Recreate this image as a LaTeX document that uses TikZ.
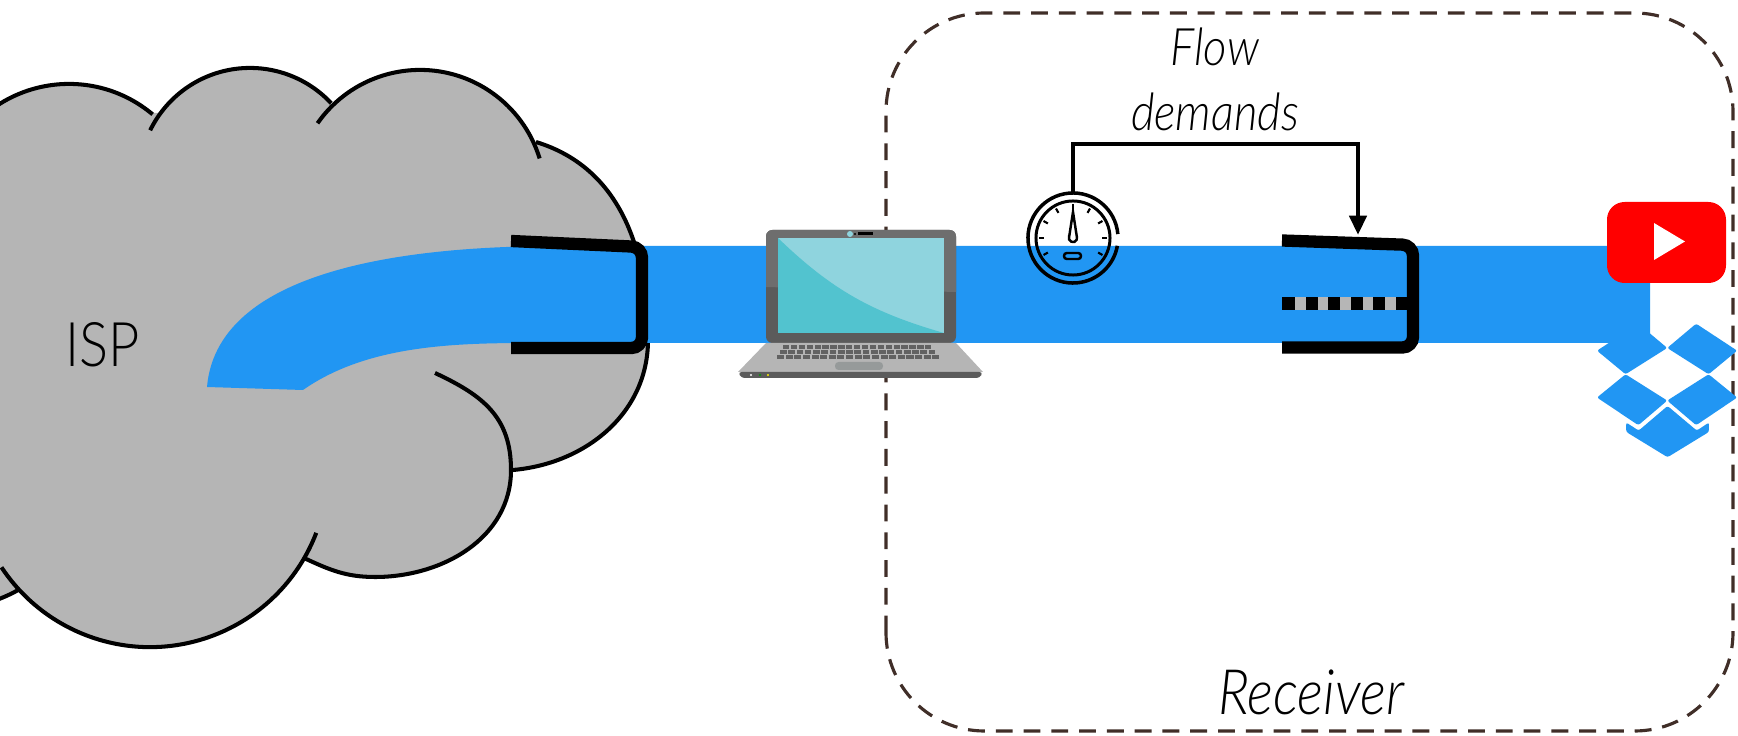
\documentclass[tikz,border=0pt]{standalone}
\usepackage{fontspec}
\setmainfont{Lato Light}[ItalicFont={Lato Light Italic}, FakeStretch=0.88]
\usepackage{tikz}
\usetikzlibrary{arrows.meta}

\definecolor{flowblue}{RGB}{33,150,243}
\definecolor{cloudgray}{RGB}{181,181,181}
\definecolor{boxbrown}{RGB}{64,46,40}
\definecolor{barsilver}{RGB}{182,182,182}
\definecolor{lidgray}{RGB}{110,110,110}
\definecolor{liddark}{RGB}{91,91,91}
\definecolor{screenlight}{RGB}{143,212,222}
\definecolor{screendark}{RGB}{82,195,207}
\definecolor{basegray}{RGB}{181,181,181}
\definecolor{keygray}{RGB}{98,98,98}
\definecolor{padgray}{RGB}{150,154,154}
\definecolor{ytred}{RGB}{255,0,0}

\begin{document}
\begin{tikzpicture}[x=0.01cm, y=0.01cm,
		cloudline/.style={line width=1.15pt},
		bracket/.style={line width=3.5pt},
		gaugeline/.style={line width=1pt},
		demandline/.style={line width=1.3pt, -{Triangle[width=4.8pt,length=5.5pt]}},
		receiverbox/.style={boxbrown, line width=0.9pt, dash pattern=on 4.8pt off 3.1pt, rounded corners=28pt}]
				\useasboundingbox (0,0) rectangle (1738,736);
				
				% ISP cloud
				\begin{scope}
				\clip (0,0) rectangle (1738,736);
				\fill [cloudgray] (69,522) circle [radius=1.3cm] (250,557) circle [radius=1.11cm] (420,541) circle [radius=1.25cm] (150,267) circle [radius=1.78cm] (-55,277) circle [radius=1.5cm];
				\fill [cloudgray] (536,594) to [out=-17, in=90] (648,396) to [out=-90, in=5] (513,266) -- (470,420) -- cycle;
				\fill [cloudgray] (435,363) to [out=-25, in=90, looseness=1.1] (511,266) to [out=-90, in=0] (375,159) to [out=180, in=-25] (304,178) -- cycle;
				\fill [cloudgray] (-100,640) -- (154,623) -- (330,628) -- (536,594) -- (513,266) -- (304,178) -- (18,146) -- (-100,130) -- cycle;
				
				\draw [cloudline] (69,522) ++(140:1.3cm) arc [start angle=140, end angle=50, radius=1.3cm];
				\draw [cloudline] (250,557) ++(154:1.11cm) arc [start angle=154, end angle=43, radius=1.11cm];
				\draw [cloudline] (420,541) ++(145:1.25cm) arc [start angle=145, end angle=17, radius=1.25cm];
				\draw [cloudline] (536,594) to [out=-17, in=90] (648,396) to [out=-90, in=5] (513,266);
				\draw [cloudline] (435,363) to [out=-25, in=90, looseness=1.1] (511,266) to [out=-90, in=0] (375,159) to [out=180, in=-25] (304,178);
				\draw [cloudline] (150,267) ++(-21:1.78cm) arc [start angle=-21, end angle=-146.5, radius=1.78cm];
				\draw [cloudline] (-55,277) ++(-61:1.5cm) arc [start angle=-61, end angle=-100, radius=1.5cm];
				\end{scope}
				
				% receiver box
				\draw [receiverbox] (886,5) rectangle (1733,723);
				
				% the flow
				\fill [flowblue] (207,349) to [out=85, in=180, looseness=0.85] (560,490) -- (1650,490) -- (1650,393) -- (560,393) to [out=180, in=35, looseness=0.85] (303,346) -- cycle;
				
				% laptop
				\fill [liddark, rounded corners=1.8pt] (766,393) rectangle (956,506);
				\fill [lidgray] (766,449) {[rounded corners=1.8pt] -- (766,506) -- (956,506)} -- (956,444) -- cycle;
				\fill [screenlight] (778,403) rectangle (944,498);
				\fill [screendark] (778,498) to [out=-44, in=164] (944,403) -- (778,403) -- cycle;
				\fill [screenlight] (850,502) circle [radius=0.03cm];
				\fill [black] (855,502) circle [radius=0.012cm];
				\fill [black] (858,500.5) rectangle (873,503.5);
				\fill [basegray] (766,393) -- (956,393) -- (983,364) -- (738,364) -- cycle;
				\fill [liddark, rounded corners=1pt] (738,364) -- (983,364) -- (980,358) -- (741,358) -- cycle;
				\foreach \r/\xa/\xb in {0/783/933, 1/780/937, 2/777/941}
					\foreach \k in {0,...,18}
						\fill [keygray] ({\xa+(\xb-\xa)*\k/19}, {387-5*\r}) rectangle +({(\xb-\xa)/19-1.6}, 4);
				\fill [padgray, rounded corners=1pt] (835,366) rectangle (883,374);
				\fill [white] (751,361) circle [radius=0.012cm];
				\fill [green!60!black] (760,361) circle [radius=0.012cm];
				\fill [yellow] (768,361) circle [radius=0.012cm];
				
				% shaping brackets
				\draw [bracket, rounded corners=3pt] (511,495) -- (642,489) -- (642,388) -- (511,388);
				\draw [bracket, rounded corners=3pt] (1282,495.5) -- (1413,491) -- (1413,388.5) -- (1282,388.5);
				\draw [bracket] (1282,432.5) -- (1411,432.5);
				\draw [bracket, barsilver, dash pattern=on 3pt off 3.4pt] (1295,432.5) -- (1402,432.5);
				\coordinate (shaper) at (1358,501);
				
				% meter
				\coordinate (gauge) at (1073,498);
				\coordinate (gaugetop) at (1073,543);
				\draw [gaugeline] (gauge) ++(5:0.45cm) arc [start angle=5, end angle=350, radius=0.45cm];
				\draw [gaugeline, line width=0.85pt] (gauge) circle [radius=0.37cm];
				\foreach \a in {-30,0,...,210}
					\draw [line width=0.6pt] (gauge) ++(\a:0.29cm) -- ++(\a:0.05cm);
				\draw [line width=0.7pt] (gauge) ++(-3.8,1.5) -- ++(3.8,24.5) -- ++(3.8,-24.5) arc [start angle=21.5, end angle=-201.5, radius=0.041cm] -- cycle;
				\draw [line width=0.7pt, rounded corners=0.8pt] (1064,477) rectangle (1081,483);
				
				\draw [demandline] (gaugetop) -- ++(0,49) -| (shaper);
				
				% services
				\fill [ytred, rounded corners=5pt] (1607,453) rectangle (1726,534);
				\fill [white] (1654,476) -- (1654,513) -- (1685,494.5) -- cycle;
				\begin{scope}[shift={(1597,414)}, x=0.0328cm, y=-0.0337cm, flowblue, rounded corners=0.6pt]
				\fill (12.6,0.5) -- (0,8.5) -- (8.7,15.5) -- (21.4,7.7) -- cycle;
				\fill (30.2,0.5) -- (42.7,8.5) -- (34,15.5) -- (21.4,7.7) -- cycle;
				\fill (0,22.4) -- (12.6,30.6) -- (21.4,23.3) -- (8.7,15.5) -- cycle;
				\fill (21.4,23.3) -- (30.2,30.6) -- (42.7,22.4) -- (34,15.5) -- cycle;
				\fill (21.5,24.9) -- (12.7,32.2) -- (8.9,29.8) -- (8.9,32.6) -- (21.5,40.1) -- (34.1,32.6) -- (34.1,29.8) -- (30.4,32.2) -- cycle;
				\end{scope}
				
				\node [anchor=base, font=\fontsize{17.5}{21}\selectfont] (isp) at (103,369) {ISP};
				\node [anchor=north, align=center, inner sep=0, font=\fontsize{14.7}{18.5}\selectfont\itshape] (demands) at (1215,709) {Flow\\demands};
				\node [anchor=base, font=\fontsize{17.8}{21}\selectfont\itshape] (receiver) at (1311,21) {Receiver};
\end{tikzpicture}
\end{document}
